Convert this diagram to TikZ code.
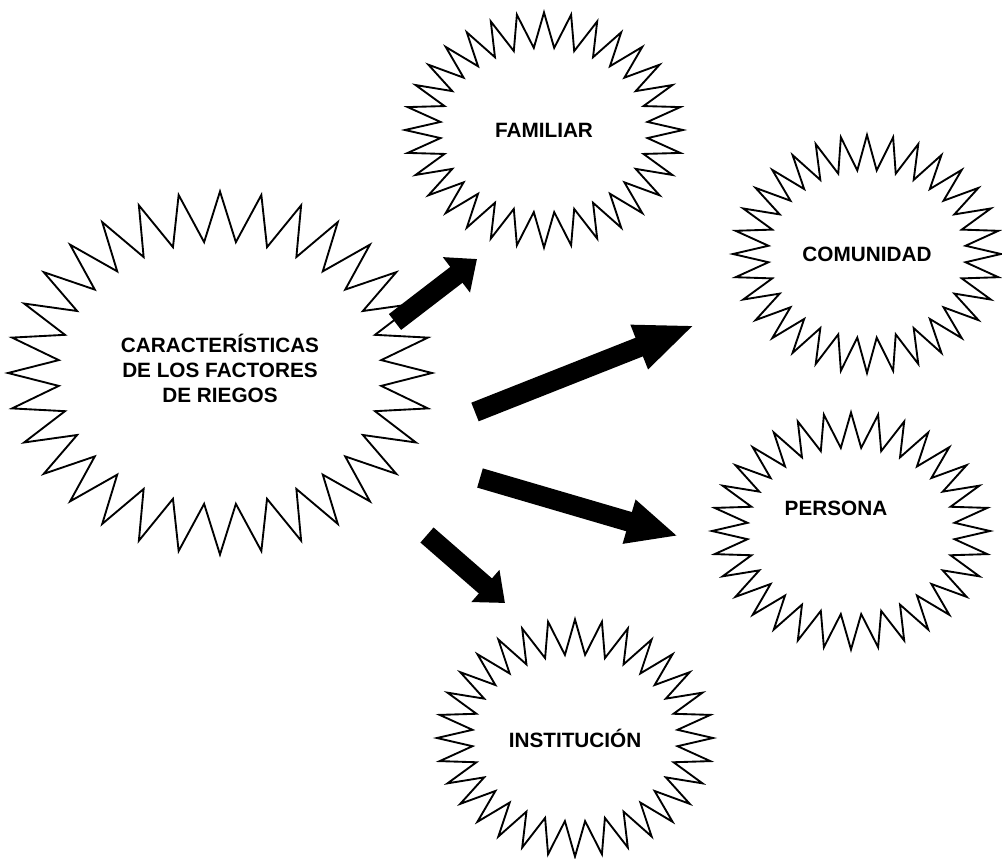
\documentclass[tikz,border=0pt]{standalone}
\usepackage{fontspec}
\setmainfont{Liberation Sans}
\usetikzlibrary{shapes.symbols, arrows.meta}
\tikzset{
	burst/.style = {
		draw = black,
		fill = white,
		starburst,
		random starburst = 0,
		starburst points = 32,
		starburst point height = 1.05cm,
		line width = 1.6pt,
		align = center,
		inner sep = 0pt
	},
	bigarrow/.style = {
		line width = 0.6cm,
		draw = black
	}
}

\begin{document}
\begin{tikzpicture}[x = 0.03cm, y = -0.03cm, font = \bfseries\fontsize{17.7}{21.3}\selectfont]
    \useasboundingbox (0,0) rectangle (1002,858) ;

    \node [burst, minimum width = 12.72cm, minimum height = 10.89cm, starburst point height = 1.5cm, label = {[yshift = 0.15cm, align = center]center:CARACTERÍSTICAS\\DE LOS FACTORES\\DE RIEGOS}] (car) at (220,373) {} ;
    \node [burst, minimum width = 8.34cm, minimum height = 7.05cm] (fam) at (544,130) {FAMILIAR} ;
    \node [burst, minimum width = 8.04cm, minimum height = 7.14cm] (com) at (867,254) {COMUNIDAD} ;
    \node [burst, minimum width = 8.34cm, minimum height = 7.11cm, label = {[xshift = -0.45cm, yshift = 0.69cm]center:PERSONA}] (per) at (851,531) {} ;
    \node [burst, minimum width = 8.28cm, minimum height = 7.11cm] (ins) at (575,738) {INSTITUCIÓN} ;

    \coordinate (fam-s) at (395,322) ;
    \coordinate (fam-e) at (477,259) ;
    \coordinate (com-s) at (475,412) ;
    \coordinate (com-e) at (695,325) ;
    \coordinate (per-s) at (480,478) ;
    \coordinate (per-e) at (678,536) ;
    \coordinate (ins-s) at (427,535) ;
    \coordinate (ins-e) at (505,603) ;

    \draw [bigarrow, -{Triangle[width = 1.29cm, length = 0.78cm]}] (fam-s) -- (fam-e) ;
    \draw [bigarrow, -{Triangle[width = 1.29cm, length = 1.8cm]}] (com-s) -- (com-e) ;
    \draw [bigarrow, -{Triangle[width = 1.26cm, length = 1.53cm]}] (per-s) -- (per-e) ;
    \draw [bigarrow, -{Triangle[width = 1.23cm, length = 0.78cm]}] (ins-s) -- (ins-e) ;
\end{tikzpicture}
\end{document}
